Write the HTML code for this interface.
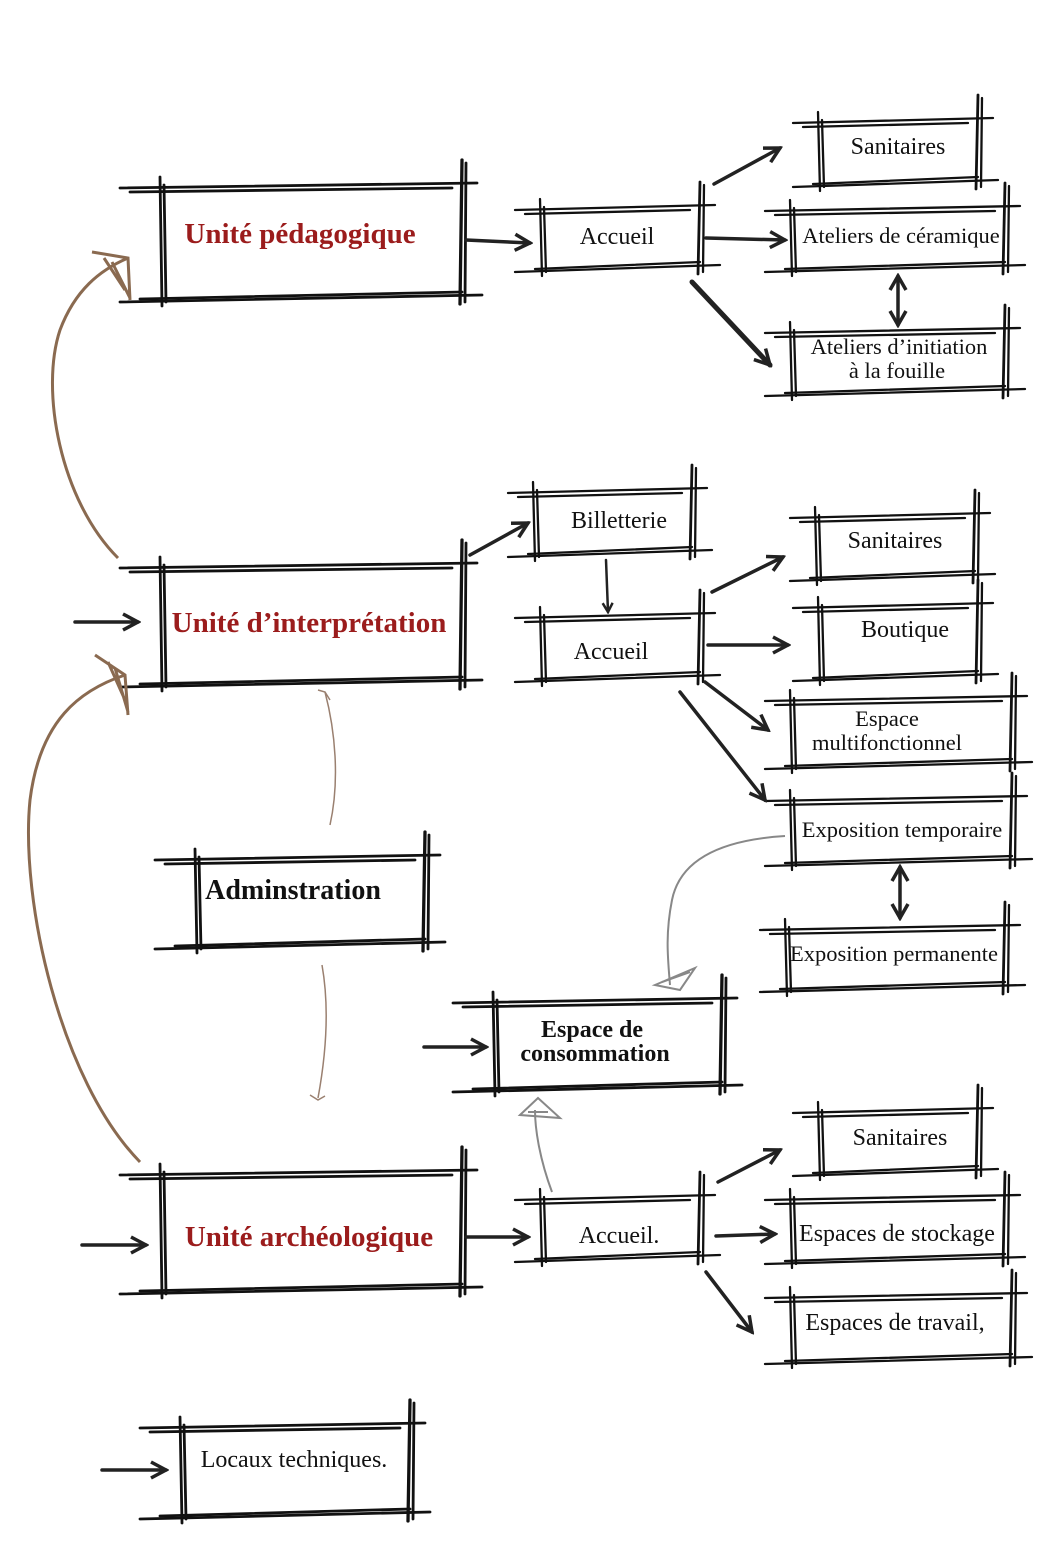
<!DOCTYPE html>
<html><head><meta charset="utf-8">
<style>
html,body{margin:0;padding:0;background:#fff;}
svg{display:block;}
text{font-family:"Liberation Serif",serif;fill:#111;}
.u{font-weight:bold;fill:#9b1c1c;font-size:29px;}
.b{font-weight:bold;}
.n{font-size:24px;}
.s{font-size:22.5px;}
</style></head>
<body>
<svg id="s" width="1063" height="1559" viewBox="0 0 1063 1559" xmlns="http://www.w3.org/2000/svg">
<defs>
<marker id="ah" markerWidth="12" markerHeight="12" refX="10" refY="6" orient="auto" markerUnits="userSpaceOnUse">
<path d="M1,1 L10,6 L1,11" fill="none" stroke="#222" stroke-width="2.5"/></marker>
<marker id="ah2" markerWidth="20" markerHeight="20" refX="17" refY="10" orient="auto" markerUnits="userSpaceOnUse">
<path d="M2,2 L17,10 L2,18" fill="none" stroke="#222" stroke-width="3.5"/></marker>
<marker id="as" markerWidth="20" markerHeight="20" refX="17" refY="10" orient="auto-start-reverse" markerUnits="userSpaceOnUse">
<path d="M3,2 L17,10 L3,18" fill="none" stroke="#222" stroke-width="3.5"/></marker>
</defs>
<g id="boxes" stroke="#111" fill="none" stroke-linecap="round"></g>
<g stroke="#222" stroke-width="3.5" fill="none" stroke-linecap="round">
<path d="M466,240 L530,243" marker-end="url(#ah2)"/>
<path d="M714,184 L780,148" marker-end="url(#ah2)"/>
<path d="M706,238 L785,240" marker-end="url(#ah2)"/>
<path d="M692,282 L770,365" marker-end="url(#ah2)" stroke-width="5"/>
<path d="M898,276 L898,325" marker-end="url(#as)" marker-start="url(#as)"/>
<path d="M470,555 L528,523" marker-end="url(#ah2)"/>
<path d="M606,560 L608,612" marker-end="url(#ah)" stroke-width="2.5"/>
<path d="M75,622 L138,622" marker-end="url(#ah2)"/>
<path d="M712,592 L783,557" marker-end="url(#ah2)"/>
<path d="M708,645 L788,645" marker-end="url(#ah2)"/>
<path d="M705,682 L768,730" marker-end="url(#ah2)"/>
<path d="M680,692 L765,800" marker-end="url(#ah2)"/>
<path d="M900,867 L900,918" marker-end="url(#as)" marker-start="url(#as)"/>
<path d="M424,1047 L486,1047" marker-end="url(#ah2)"/>
<path d="M82,1245 L146,1245" marker-end="url(#ah2)"/>
<path d="M466,1237 L528,1237" marker-end="url(#ah2)"/>
<path d="M718,1182 L780,1150" marker-end="url(#ah2)"/>
<path d="M716,1236 L775,1234" marker-end="url(#ah2)"/>
<path d="M706,1272 L752,1332" marker-end="url(#ah2)"/>
<path d="M102,1470 L166,1470" marker-end="url(#ah2)"/>
</g>
<g stroke="#8a6a50" stroke-width="3" fill="none">
<path d="M118,558 C60,500 40,390 60,330 C75,290 100,270 128,258"/>
<path d="M92,252 L128,258 L130,300 M104,258 L125,290 M112,262 L130,298"/>
<path d="M140,1162 C60,1080 20,900 30,800 C40,720 80,690 125,675"/>
<path d="M95,655 L125,675 L128,715 M108,662 L125,700 M115,668 L128,712"/>
</g>
<g stroke="#9a8070" stroke-width="1.5" fill="none">
<path d="M330,825 C340,780 335,730 325,692"/>
<path d="M318,690 L325,692 L330,700"/>
<path d="M322,965 C330,1010 325,1060 318,1098"/>
<path d="M310,1095 L318,1100 L325,1096"/>
</g>
<g stroke="#888" stroke-width="2" fill="none">
<path d="M785,836 C720,840 680,860 672,900 C665,935 668,960 670,985"/>
<path d="M655,985 L695,968 L680,990 Z M662,982 L690,972"/>
<path d="M552,1192 C540,1160 535,1130 535,1110"/>
<path d="M520,1115 L538,1098 L560,1118 Z M528,1112 L548,1112"/>
</g>
<text class="u" x="300" y="243" text-anchor="middle">Unité pédagogique</text>
<text class="n" x="617" y="244" text-anchor="middle">Accueil</text>
<text class="n" x="898" y="154" text-anchor="middle">Sanitaires</text>
<text class="s" x="901" y="243" text-anchor="middle">Ateliers de céramique</text>
<text class="s" x="899" y="354" text-anchor="middle">Ateliers d’initiation</text>
<text class="s" x="897" y="378" text-anchor="middle">à la fouille</text>
<text class="u" x="309" y="632" text-anchor="middle">Unité d’interprétation</text>
<text class="n" x="619" y="528" text-anchor="middle">Billetterie</text>
<text class="n" x="611" y="659" text-anchor="middle">Accueil</text>
<text class="n" x="895" y="548" text-anchor="middle">Sanitaires</text>
<text class="n" x="905" y="637" text-anchor="middle">Boutique</text>
<text class="s" x="887" y="726" text-anchor="middle">Espace</text>
<text class="s" x="887" y="750" text-anchor="middle">multifonctionnel</text>
<text class="s" x="902" y="837" text-anchor="middle">Exposition temporaire</text>
<text class="s" x="894" y="961" text-anchor="middle">Exposition permanente</text>
<text class="b" x="293" y="899" text-anchor="middle" style="font-size:28px">Adminstration</text>
<text class="b" x="592" y="1037" text-anchor="middle" style="font-size:24px">Espace de</text>
<text class="b" x="595" y="1061" text-anchor="middle" style="font-size:24px">consommation</text>
<text class="u" x="309" y="1246" text-anchor="middle">Unité archéologique</text>
<text class="n" x="619" y="1243" text-anchor="middle">Accueil.</text>
<text class="n" x="900" y="1145" text-anchor="middle">Sanitaires</text>
<text class="n" x="897" y="1241" text-anchor="middle">Espaces de stockage</text>
<text class="n" x="895" y="1330" text-anchor="middle">Espaces de travail,</text>
<text class="n" x="294" y="1467" text-anchor="middle">Locaux techniques.</text>
</svg>
<script>
var B=[[160,185,462,298,1],[540,207,700,268],[818,120,978,183],[790,208,1005,268],[790,330,1005,392],
[160,565,462,683,1],[533,490,692,553],[540,615,700,678],[815,515,975,577],[818,605,978,677],
[790,698,1012,765],[790,798,1012,862],[785,927,1005,988],[195,857,425,945,1],[493,1000,722,1088,1],
[160,1172,462,1290,1],[540,1197,700,1258],[818,1110,978,1172],[790,1197,1005,1260],[790,1295,1012,1360],[180,1425,410,1515,1]];
var g=document.getElementById('boxes'),h='';
function L(a,b,c,d,w){h+='<line x1="'+a+'" y1="'+b+'" x2="'+c+'" y2="'+d+'" stroke-width="'+w+'"/>';}
B.forEach(function(q){var x1=q[0],y1=q[1],x2=q[2],y2=q[3],big=q[4],e=big?40:25,w=big?2.8:2.3;
L(x1-e,y1+3,x2+15,y1-2,w);L(x1-e+10,y1+7,x2-10,y1+3,w);
L(x1-e,y2+4,x2+20,y2-3,w);L(x1-e+20,y2+1,x2,y2-6,w);
L(x1,y1-8,x1+2,y2+8,w);L(x1+4,y1,x1+6,y2+4,w);
L(x2,y1-25,x2-2,y2+6,w+0.5);L(x2+4,y1-22,x2+3,y2+4,w);});
g.innerHTML=h;
</script>
</body></html>
